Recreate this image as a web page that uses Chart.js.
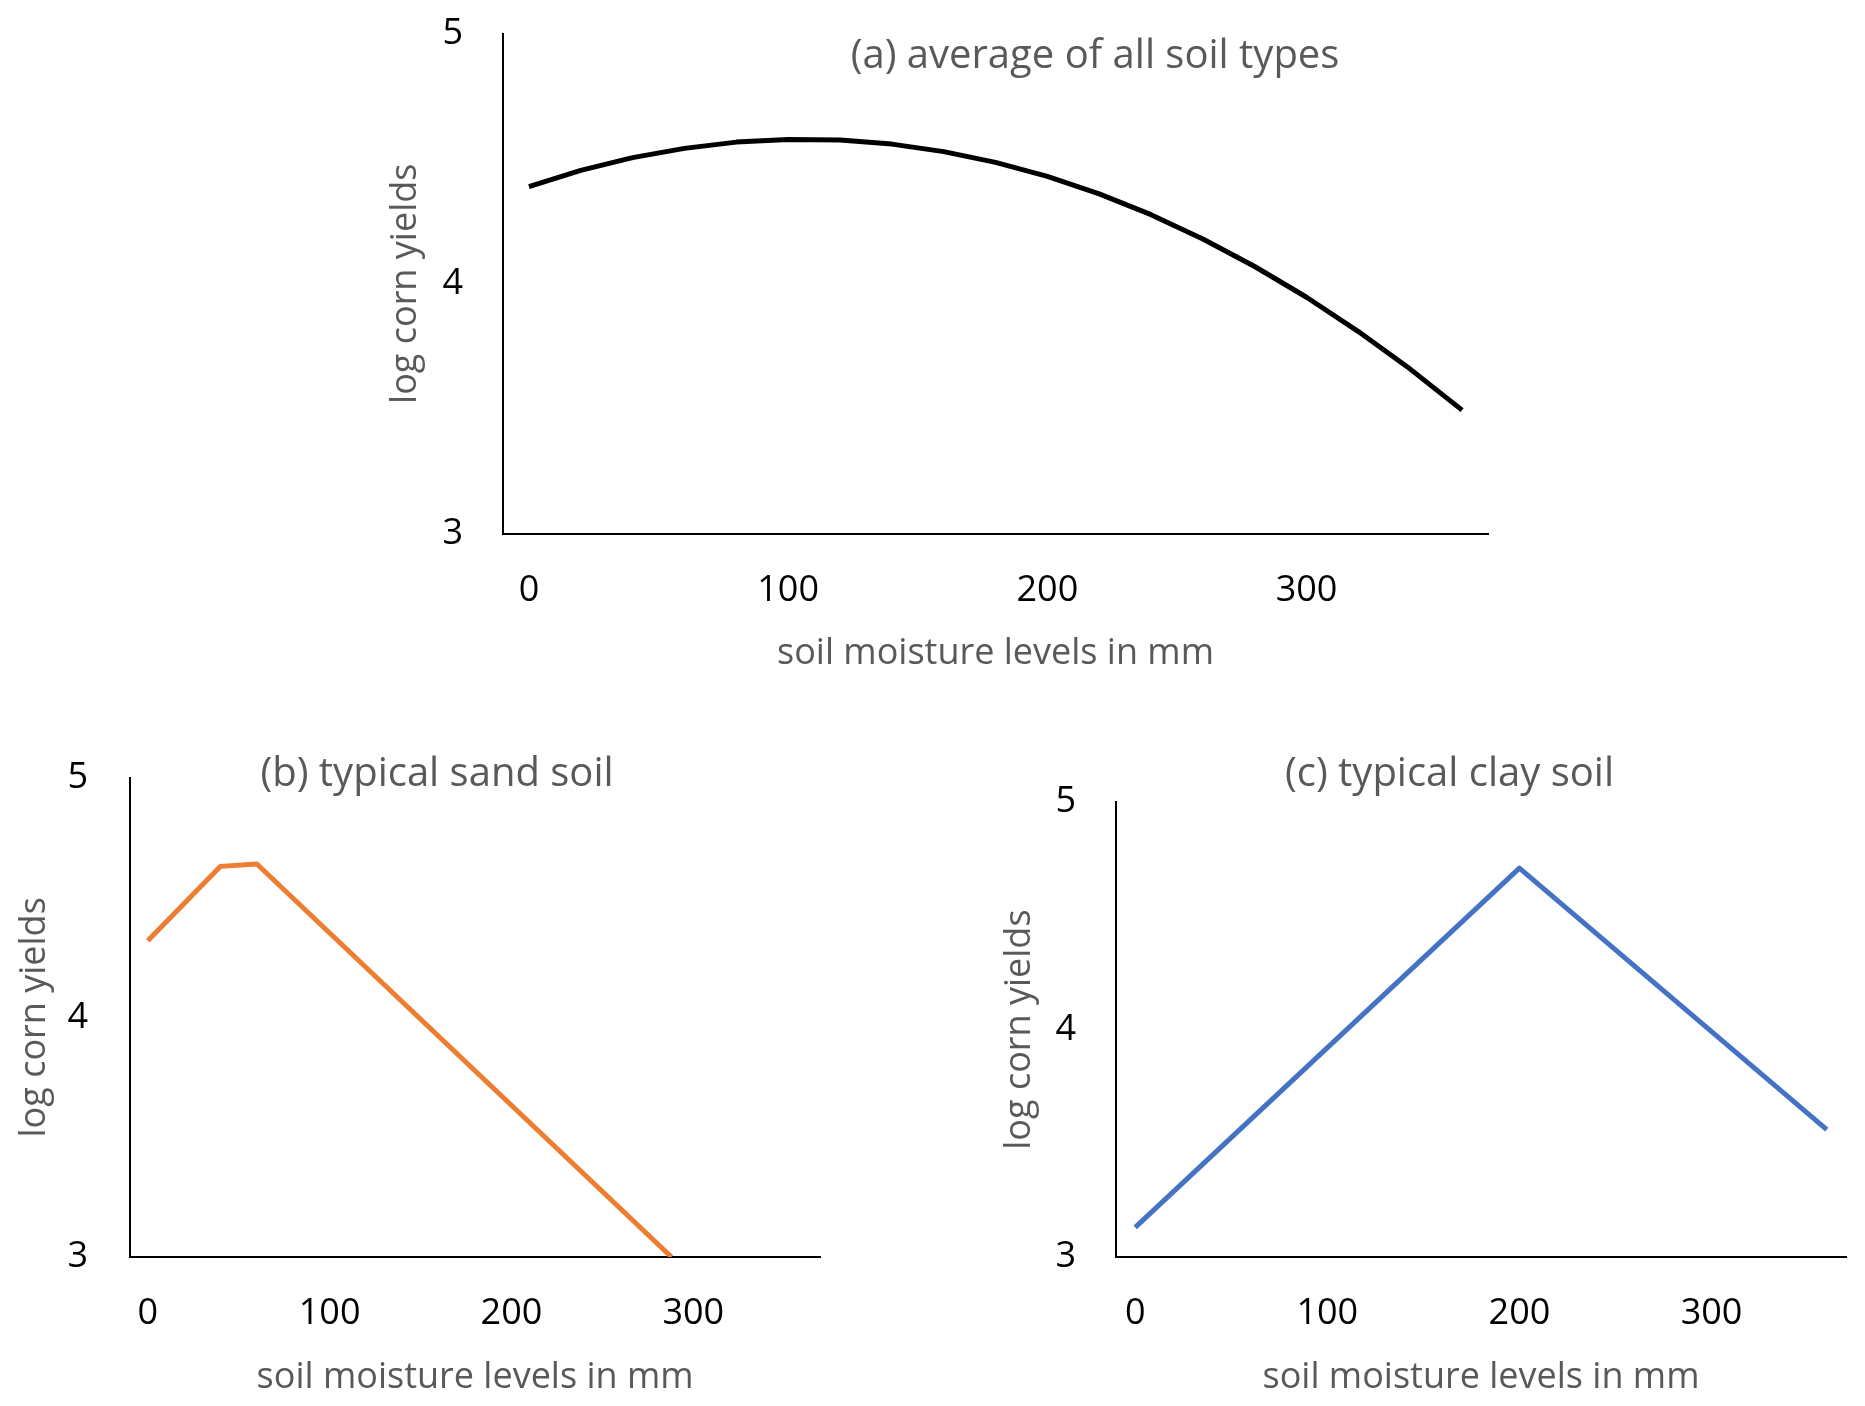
<!DOCTYPE html>
<html>
<head>
<meta charset="utf-8">
<script src="https://cdn.jsdelivr.net/npm/chart.js@4/dist/chart.umd.min.js"></script>
<style>
  html, body { margin: 0; padding: 0; background: #ffffff; width: 1865px; height: 1406px; overflow: hidden; }
  canvas { position: absolute; }
</style>
</head>
<body>
<canvas id="chartA" width="1510" height="700" style="left:340px; top:0px; width:1510px; height:700px;"></canvas>
<canvas id="chartB" width="900" height="686" style="left:0px; top:720px; width:900px; height:686px;"></canvas>
<canvas id="chartC" width="905" height="686" style="left:960px; top:720px; width:905px; height:686px;"></canvas>
<script>
// ---- data ----
const xTickValues = [0, 100, 200, 300];
const yTickValues = [3, 4, 5];

const titleA = "(a) average of all soil types";
const titleB = "(b) typical sand soil";
const titleC = "(c) typical clay soil";
const xAxisTitle = "soil moisture levels in mm";
const yAxisTitle = "log corn yields";

const moistureA = [0, 20, 40, 60, 80, 100, 120, 140, 160, 180, 200, 220, 240, 260, 280, 300, 320, 340, 360];
const yieldA = [4.388, 4.453, 4.504, 4.541, 4.566, 4.576, 4.574, 4.558, 4.528, 4.485, 4.429, 4.359, 4.276, 4.179, 4.069, 3.946, 3.809, 3.659, 3.495];

const moistureB = [0, 40, 60, 288];
const yieldB = [4.32, 4.63, 4.64, 3.00];

const moistureC = [0, 200, 360];
const yieldC = [3.13, 4.71, 3.56];

// ---- styling ----
const FONT = "'Open Sans'";
const GREY = '#595959';

const overlayTitle = {
  id: 'overlayTitle',
  afterDraw(chart, args, opts) {
    const ctx = chart.ctx;
    ctx.save();
    ctx.font = opts.size + 'px ' + FONT;
    ctx.fillStyle = opts.color;
    ctx.textAlign = 'center';
    ctx.textBaseline = 'middle';
    ctx.fillText(opts.text, opts.x, opts.y);
    ctx.restore();
  }
};

function makeChart(id, xs, ys, color, title, layout) {
  const pts = xs.map((x, i) => ({ x: x, y: ys[i] }));
  return new Chart(document.getElementById(id), {
    type: 'line',
    data: {
      datasets: [{
        data: pts,
        borderColor: color,
        borderWidth: 5,
        pointRadius: 0,
        pointHoverRadius: 0,
        tension: 0,
        fill: false,
        borderJoinStyle: 'round',
        borderCapStyle: 'butt',
        clip: layout.clip
      }]
    },
    options: {
      responsive: false,
      animation: false,
      events: [],
      layout: { padding: layout.padding },
      plugins: {
        legend: { display: false },
        tooltip: { enabled: false },
        title: { display: false },
        overlayTitle: { text: title, x: layout.titleX, y: layout.titleY, size: 40, color: GREY }
      },
      scales: {
        x: {
          type: 'linear',
          min: -10,
          max: 370,
          afterBuildTicks: s => { s.ticks = xTickValues.map(v => ({ value: v })); },
          afterFit: s => { s.height = layout.xHeight; s.paddingLeft = 0; s.paddingRight = 0; },
          grid: { display: false, drawTicks: false },
          border: { display: true, color: '#000000', width: 2 },
          ticks: { color: '#000000', font: { family: FONT, size: 36 }, padding: layout.xTickPad, maxRotation: 0, autoSkip: false },
          title: { display: true, text: xAxisTitle, color: GREY, font: { family: FONT, size: 36 }, padding: { top: 0, bottom: layout.xTitlePad } }
        },
        y: {
          type: 'linear',
          min: 3,
          max: 5,
          afterBuildTicks: s => { s.ticks = yTickValues.map(v => ({ value: v })); },
          afterFit: s => { s.width = layout.yWidth; s.paddingTop = 0; s.paddingBottom = 0; },
          grid: { display: false, drawTicks: false },
          border: { display: true, color: '#000000', width: 2 },
          ticks: { color: '#000000', font: { family: FONT, size: 36 }, padding: layout.yTickPad },
          title: { display: true, text: yAxisTitle, color: GREY, font: { family: FONT, size: 36 }, padding: { top: layout.yTitlePad, bottom: 0 } }
        }
      }
    },
    plugins: [overlayTitle]
  });
}

makeChart('chartA', moistureA, yieldA, '#000000', titleA, {
  padding: { left: 0, top: 33.5, right: 362, bottom: 0 },
  xHeight: 166, yWidth: 163,
  xTickPad: 35.4, yTickPad: 40,
  xTitlePad: 24.2, yTitlePad: 44,
  titleX: 755, titleY: 57, clip: undefined
});

makeChart('chartB', moistureB, yieldB, '#ED7D31', titleB, {
  padding: { left: 0, top: 57.7, right: 79.4, bottom: 0 },
  xHeight: 149, yWidth: 129.6,
  xTickPad: 34.8, yTickPad: 41.6,
  xTitlePad: 7.1, yTitlePad: 13.2,
  titleX: 437, titleY: 54.7, clip: 0
});

makeChart('chartC', moistureC, yieldC, '#4472C4', titleC, {
  padding: { left: 0, top: 82.2, right: 19, bottom: 0 },
  xHeight: 149, yWidth: 156,
  xTickPad: 34.8, yTickPad: 40,
  xTitlePad: 7.1, yTitlePad: 37.9,
  titleX: 489.5, titleY: 54.7, clip: undefined
});
</script>
</body>
</html>
